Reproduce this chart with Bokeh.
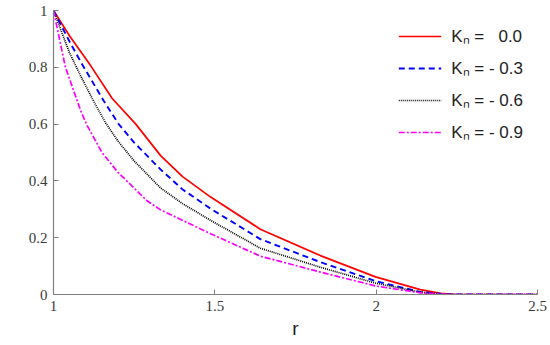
from bokeh.plotting import figure
from bokeh.models import FixedTicker, Label, Legend, LegendItem, Range1d
from bokeh.embed import file_html
from bokeh.resources import INLINE

# ---- data ----
r_k00 = [1.0, 1.05, 1.115, 1.182, 1.255, 1.332, 1.4, 1.487, 1.641, 1.827, 1.998, 2.137, 2.2, 2.25, 2.5]
t_k00 = [1.0, 0.91, 0.806, 0.69, 0.60, 0.489, 0.415, 0.343, 0.23, 0.137, 0.062, 0.017, 0.004, 0.0, 0.0]

r_k03 = [1.0, 1.05, 1.089, 1.155, 1.202, 1.25, 1.332, 1.4, 1.487, 1.641, 1.827, 1.998, 2.137, 2.22, 2.5]
t_k03 = [1.0, 0.89, 0.81, 0.683, 0.60, 0.535, 0.44, 0.37, 0.302, 0.195, 0.114, 0.047, 0.009, 0.0, 0.0]

r_k06 = [1.0, 1.05, 1.084, 1.12, 1.161, 1.2, 1.25, 1.332, 1.4, 1.487, 1.641, 1.827, 1.998, 2.137, 2.22, 2.5]
t_k06 = [1.0, 0.85, 0.77, 0.69, 0.605, 0.54, 0.47, 0.375, 0.32, 0.261, 0.163, 0.096, 0.04, 0.008, 0.0, 0.0]

r_k09 = [1.0, 1.037, 1.084, 1.102, 1.15, 1.2, 1.29, 1.332, 1.487, 1.641, 1.827, 1.998, 2.137, 2.22, 2.5]
t_k09 = [1.0, 0.80, 0.648, 0.60, 0.50, 0.43, 0.33, 0.298, 0.214, 0.135, 0.079, 0.03, 0.006, 0.0, 0.0]

legend_labels = ["K\u2099 =\u00a0\u00a0\u00a00.0", "K\u2099 = - 0.3", "K\u2099 = - 0.6", "K\u2099 = - 0.9"]

x_ticks = [1, 1.5, 2, 2.5]
x_tick_labels = ["1", "1.5", "2", "2.5"]
y_ticks = [0, 0.2, 0.4, 0.6, 0.8, 1]
y_tick_labels = ["0", "0.2", "0.4", "0.6", "0.8", "1"]

# ---- figure ----
p = figure(width=550, height=345, output_backend="svg", toolbar_location=None,
           x_range=Range1d(1, 2.5), y_range=Range1d(0, 1),
           min_border_left=53, min_border_right=13, min_border_top=10, min_border_bottom=51)
p.outline_line_color = None
p.xgrid.grid_line_color = None
p.ygrid.grid_line_color = None
p.background_fill_color = "white"
p.border_fill_color = "white"

for ax, ticks, labels in ((p.xaxis[0], x_ticks, x_tick_labels), (p.yaxis[0], y_ticks, y_tick_labels)):
    ax.ticker = FixedTicker(ticks=ticks)
    ax.major_label_overrides = {t: l for t, l in zip(ticks, labels)}
    ax.axis_line_color = "#7f7f7f"
    ax.axis_line_width = 1.2
    ax.major_tick_line_color = "#7f7f7f"
    ax.major_tick_in = 5
    ax.major_tick_out = 0
    ax.minor_tick_line_color = None
    ax.major_label_text_font = "'Liberation Serif', serif"
    ax.major_label_text_font_size = "15px"
    ax.major_label_text_color = "#3a3a3a"

p.xaxis.major_label_standoff = 6
p.yaxis.major_label_standoff = 6
p.xaxis.axis_label = "r"
p.xaxis.axis_label_text_font = "Liberation Sans"
p.xaxis.axis_label_text_font_style = "normal"
p.xaxis.axis_label_text_font_size = "19px"
p.xaxis.axis_label_text_color = "#222222"
p.xaxis.axis_label_standoff = 4

p.add_layout(Label(x=1, y=0.505, x_offset=-43, text="T", text_align="center",
                   text_baseline="middle", text_font="Liberation Sans",
                   text_font_size="19px", text_color="#222222"))

r0 = p.line(r_k00, t_k00, line_color="#ff0000", line_width=1.7)
r1 = p.line(r_k03, t_k03, line_color="#0000ff", line_width=1.9, line_dash="6 4")
r2 = p.line(r_k06, t_k06, line_color="#000000", line_width=1.7, line_dash="1 1")
r3 = p.line(r_k09, t_k09, line_color="#ff00ff", line_width=1.7, line_dash="6 2 2 2")

legend = Legend(items=[LegendItem(label=l, renderers=[r]) for l, r in zip(legend_labels, [r0, r1, r2, r3])],
                location="top_right")
legend.border_line_color = None
legend.background_fill_alpha = 0
legend.label_text_font = "Liberation Sans"
legend.label_text_font_size = "17px"
legend.label_text_color = "#222222"
legend.glyph_width = 43
legend.glyph_height = 20
legend.label_height = 20
legend.label_standoff = 10
legend.spacing = 9
legend.margin = 14
legend.padding = 5
p.add_layout(legend)

open("out.html", "w").write(file_html(p, INLINE))
